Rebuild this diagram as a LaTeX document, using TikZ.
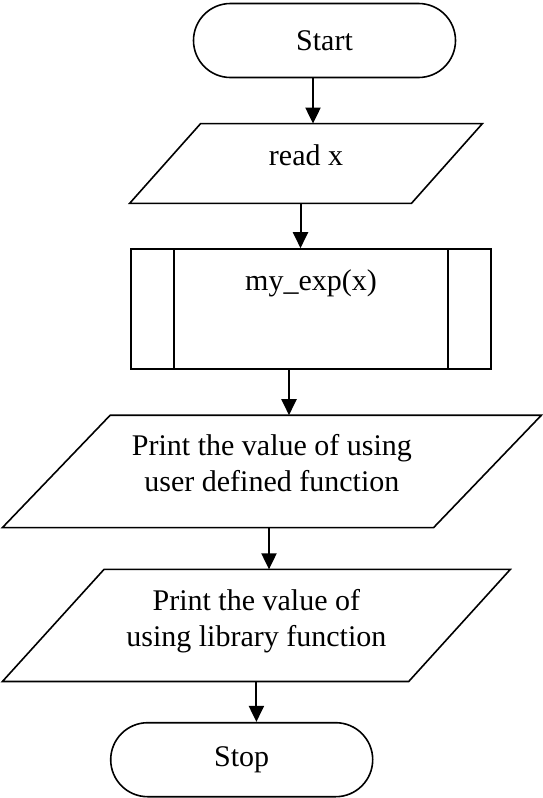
\documentclass[tikz,border=0pt]{standalone}
\usepackage{fontspec}
\setmainfont{Liberation Serif}
\usetikzlibrary{shapes.misc, arrows.meta}

\tikzset{
	flowtext/.style={font=\fontsize{15pt}{18.3pt}\selectfont},
	shapeline/.style={line width=0.8pt},
	terminal/.style={flowtext, draw, shapeline, rounded rectangle,
		minimum width=131pt, minimum height=37pt, inner sep=0pt},
	inout/.style={flowtext, rectangle, align=center, inner sep=0pt},
	subproc/.style={flowtext, draw, shapeline, rectangle, inner sep=0pt},
	flow/.style={line width=1pt, -{Triangle[width=7.5pt, length=8pt]}}
}
% slanted outline round a rectangle node: #1 node, #2 slant
\newcommand{\ioshape}[2]{%
	\draw[shapeline] ([xshift=#2]#1.north west) -- (#1.north east)
		-- ([xshift=-#2]#1.south east) -- (#1.south west) -- cycle;}

\begin{document}
\begin{tikzpicture}
	\def \barw {21.75pt}
	\useasboundingbox (0pt,0pt) rectangle (271pt,-399pt);

	\node[terminal] (start) at (162.25pt,-20.25pt) {Start};
	\node[inout, minimum width=176pt, minimum height=39.5pt,
		text height=9.9pt, text depth=8.4pt] (readx) at (153pt,-81.75pt)
		{read x};
	\ioshape{readx}{35.5pt}
	\node[subproc, minimum width=180pt, minimum height=60pt,
		text height=9.8pt, text depth=28.1pt] (myexp) at (155.5pt,-154.5pt)
		{my\_exp(x)};
	\draw[shapeline] ([xshift=\barw]myexp.north west) -- ([xshift=\barw]myexp.south west);
	\draw[shapeline] ([xshift=-22pt]myexp.north east) -- ([xshift=-22pt]myexp.south east);
	\node[inout, minimum width=269.1pt, minimum height=55.8pt,
		text depth=8.4pt] (outdef) at (135.95pt,-235.7pt)
		{Print the value of using\\user defined function};
	\ioshape{outdef}{53.9pt}
	\node[inout, minimum width=253.55pt, minimum height=55.65pt,
		text depth=7.6pt] (outlib) at (128.2pt,-312.7pt)
		{Print the value of\\using library function};
	\ioshape{outlib}{50.8pt}
	\node[terminal] (stop) at (120.85pt,-379.85pt) {Stop};

	\draw[flow] ([xshift=-5.75pt]start.south) -- ([xshift=-5.75pt]start.south |- readx.north);
	\draw[flow] ([xshift=-2.75pt]readx.south) -- ([xshift=-2.75pt]readx.south |- myexp.north);
	\draw[flow] ([xshift=-11pt]myexp.south) -- ([xshift=-11pt]myexp.south |- outdef.north);
	\draw[flow] ([xshift=-1.45pt]outdef.south) -- ([xshift=-1.45pt]outdef.south |- outlib.north);
	\draw[flow] (outlib.south) -- (outlib.south |- stop.north);
\end{tikzpicture}
\end{document}
